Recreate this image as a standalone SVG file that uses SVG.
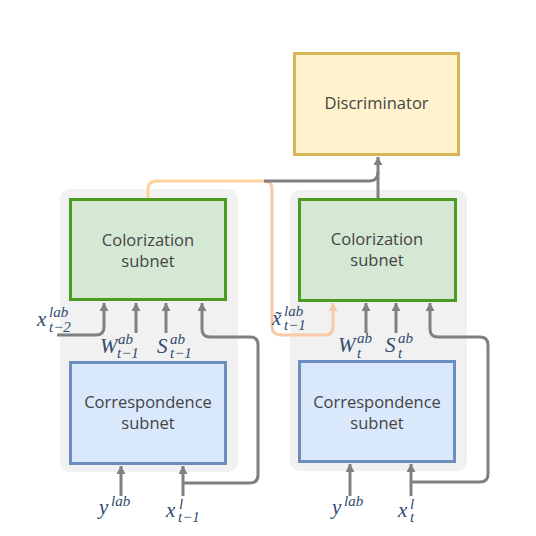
<svg xmlns="http://www.w3.org/2000/svg" width="536" height="536" viewBox="0 0 536 536">
<defs>
<marker id="ag" markerUnits="userSpaceOnUse" markerWidth="10" markerHeight="10" refX="8" refY="4.5" orient="auto"><path d="M0,0 L8,4.5 L0,9 Z" fill="#808080"/></marker>
<marker id="ao" markerUnits="userSpaceOnUse" markerWidth="10" markerHeight="10" refX="8" refY="4.5" orient="auto"><path d="M0,0 L8,4.5 L0,9 Z" fill="#f9c9a9"/></marker>
</defs>
<style>
.panel{fill:#f1f1f1}
.green{fill:#d5e8d4;stroke:#4b9b22;stroke-width:3}
.blue{fill:#dae8fc;stroke:#6c8ebf;stroke-width:3}
.yellow{fill:#fff2cc;stroke:#d6b656;stroke-width:3}
.lbl{font-family:"Open Sans","Noto Sans",sans-serif;font-size:16.5px;fill:#444;text-anchor:middle}
.g{fill:none;stroke:#808080;stroke-width:3;marker-end:url(#ag)}
.gn{fill:none;stroke:#808080;stroke-width:3}
.o{fill:none;stroke:#f9c9a9;stroke-width:3;marker-end:url(#ao)}
.o2{fill:none;stroke:#ffd19e;stroke-width:3}
.m{font-family:"Liberation Serif",serif;font-style:italic;fill:#2f4b6e}
.b{font-size:21px}
.s{font-size:15px}
</style>
<rect class="panel" x="60" y="189" width="178" height="283" rx="10"/>
<rect class="panel" x="290" y="190" width="177" height="281" rx="10"/>
<g id="connectors">
<path class="o2" d="M148,198 V190 Q148,181 157,181 H264"/>
<path class="o" d="M264,181 Q272,181 272,189 V326 Q272,335 281,335 H325 Q333,335 333,327 V303"/>
<path class="gn" d="M264,181 H369 Q378,181 378,172"/>
<path class="g" d="M378,198 V157"/>
<path class="g" d="M57,335 H96 Q104,335 104,327 V303"/>
<path class="g" d="M136,333 V303"/>
<path class="g" d="M166,333 V303"/>
<path class="g" d="M183,483 H250 Q258,483 258,475 V345 Q258,337 250,337 H210 Q202,337 202,329 V303"/>
<path class="g" d="M121,496 V466"/>
<path class="g" d="M183,496 V466"/>
<path class="g" d="M366,333 V303"/>
<path class="g" d="M396,333 V303"/>
<path class="g" d="M411,482 H480 Q488,482 488,474 V345 Q488,337 480,337 H438 Q430,337 430,329 V303"/>
<path class="g" d="M350,496 V464"/>
<path class="g" d="M411,496 V464"/>
</g>
<g id="discriminator">
<rect class="yellow" x="294.5" y="53.5" width="164" height="101"/>
<text class="lbl" x="376.5" y="109">Discriminator</text>
</g>
<g id="colorization-left">
<rect class="green" x="70.5" y="199.5" width="155" height="100"/>
<text class="lbl" x="148" y="246">Colorization</text>
<text class="lbl" x="148" y="267">subnet</text>
</g>
<g id="colorization-right">
<rect class="green" x="299.5" y="199.5" width="156" height="101"/>
<text class="lbl" x="377" y="245">Colorization</text>
<text class="lbl" x="377" y="266">subnet</text>
</g>
<g id="correspondence-left">
<rect class="blue" x="70.5" y="362.5" width="155" height="101"/>
<text class="lbl" x="148" y="408">Correspondence</text>
<text class="lbl" x="148" y="429">subnet</text>
</g>
<g id="correspondence-right">
<rect class="blue" x="299.5" y="361.5" width="155" height="100"/>
<text class="lbl" x="377" y="408">Correspondence</text>
<text class="lbl" x="377" y="429">subnet</text>
</g>
<g id="labels">
<text class="m b" x="37" y="326">x</text><text class="m s" x="49" y="317">lab</text><text class="m s" x="49" y="332">t−2</text>
<text class="m b" x="100" y="353">W</text><text class="m s" x="118" y="344">ab</text><text class="m s" x="117" y="358">t−1</text>
<text class="m b" x="157" y="353">S</text><text class="m s" x="170" y="344">ab</text><text class="m s" x="170" y="358">t−1</text>
<text class="m b" x="272" y="325">x̃</text><text class="m s" x="284" y="316">lab</text><text class="m s" x="284" y="330">t−1</text>
<text class="m b" x="338" y="352">W</text><text class="m s" x="357" y="343">ab</text><text class="m s" x="357" y="358">t</text>
<text class="m b" x="385" y="352">S</text><text class="m s" x="398" y="343">ab</text><text class="m s" x="398" y="358">t</text>
<text class="m b" x="99" y="514">y</text><text class="m s" x="111" y="506">lab</text>
<text class="m b" x="166" y="517">x</text><text class="m s" x="179" y="509">l</text><text class="m s" x="178" y="522">t−1</text>
<text class="m b" x="398" y="517">x</text><text class="m s" x="410" y="509">l</text><text class="m s" x="410" y="522">t</text>
<text class="m b" x="332" y="514">y</text><text class="m s" x="344" y="506">lab</text>
</g>
</svg>
